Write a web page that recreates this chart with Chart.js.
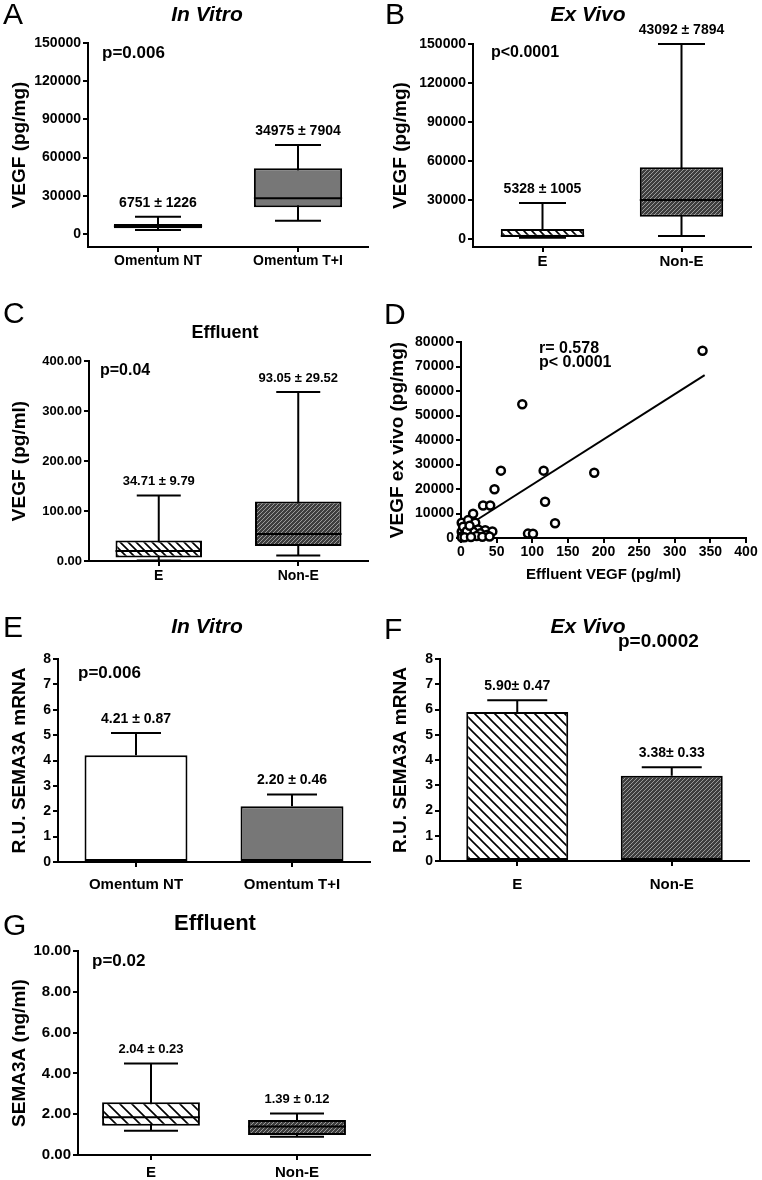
<!DOCTYPE html>
<html>
<head>
<meta charset="utf-8">
<script src="https://cdn.jsdelivr.net/npm/chart.js@4.4.0/dist/chart.umd.min.js"></script>
<style>
body { margin: 0; background: #fff; width: 762px; height: 1180px; position: relative; overflow: hidden; font-family: "Liberation Sans", Arial, sans-serif; }
canvas { position: absolute; }
.t { position: absolute; white-space: nowrap; color: #000; line-height: 1; transform: translateY(-50%); }
.letter { font-size: 30px; }
.title { font-weight: bold; transform: translate(-50%, -50%); }
.ital { font-style: italic; }
.pv { font-weight: bold; }
</style>
</head>
<body>
<canvas id="chartA" width="381" height="270" style="left:0;top:0"></canvas>
<canvas id="chartB" width="381" height="270" style="left:381px;top:0"></canvas>
<canvas id="chartC" width="381" height="320" style="left:0;top:270px"></canvas>
<canvas id="chartD" width="381" height="320" style="left:381px;top:270px"></canvas>
<canvas id="chartE" width="381" height="310" style="left:0;top:590px"></canvas>
<canvas id="chartF" width="381" height="310" style="left:381px;top:590px"></canvas>
<canvas id="chartG" width="381" height="280" style="left:0;top:900px"></canvas>

<div class="t letter" style="left:3px;top:14px">A</div>
<div class="t letter" style="left:385px;top:14px">B</div>
<div class="t letter" style="left:3px;top:313px">C</div>
<div class="t letter" style="left:384px;top:314px">D</div>
<div class="t letter" style="left:3px;top:627px">E</div>
<div class="t letter" style="left:384px;top:629px">F</div>
<div class="t letter" style="left:3px;top:925px">G</div>

<div class="t title ital" style="left:207px;top:13px;font-size:21px">In Vitro</div>
<div class="t title ital" style="left:588px;top:13px;font-size:21px">Ex Vivo</div>
<div class="t title" style="left:225px;top:332px;font-size:18px">Effluent</div>
<div class="t title ital" style="left:207px;top:625px;font-size:21px">In Vitro</div>
<div class="t title ital" style="left:588px;top:625px;font-size:21px">Ex Vivo</div>
<div class="t title" style="left:215px;top:923px;font-size:22px">Effluent</div>

<div class="t pv" style="left:102px;top:52px;font-size:17px">p=0.006</div>
<div class="t pv" style="left:491px;top:52px;font-size:16px">p&lt;0.0001</div>
<div class="t pv" style="left:100px;top:370px;font-size:16px">p=0.04</div>
<div class="t pv" style="left:539px;top:348px;font-size:16px">r= 0.578</div>
<div class="t pv" style="left:539px;top:362px;font-size:16px">p&lt; 0.0001</div>
<div class="t pv" style="left:78px;top:672px;font-size:17px">p=0.006</div>
<div class="t pv" style="left:618px;top:640px;font-size:19px">p=0.0002</div>
<div class="t pv" style="left:92px;top:960px;font-size:17px">p=0.02</div>

<script>
// ---------- A: VEGF in vitro (box) ----------
const catsA = ['Omentum NT', 'Omentum T+I'];
const boxLoA = [4500, 21000];
const boxHiA = [7800, 51600];
const medA = [6000, 28000];
const minA = [3100, 10500];
const maxA = [13600, 69900];
const noteA = ['6751 \u00b1 1226', '34975 \u00b1 7904'];
const yTicksA = [0, 30000, 60000, 90000, 120000, 150000];

// ---------- B: VEGF ex vivo (box) ----------
const catsB = ['E', 'Non-E'];
const boxLoB = [1700, 17200];
const boxHiB = [7700, 55100];
const medB = [2300, 30000];
const minB = [900, 2300];
const maxB = [27600, 150000];
const noteB = ['5328 \u00b1 1005', '43092 \u00b1 7894'];
const yTicksB = [0, 30000, 60000, 90000, 120000, 150000];

// ---------- C: VEGF effluent (box) ----------
const catsC = ['E', 'Non-E'];
const boxLoC = [7, 30];
const boxHiC = [41, 119];
const medC = [20, 54];
const minC = [1, 11];
const maxC = [131, 338];
const noteC = ['34.71 \u00b1 9.79', '93.05 \u00b1 29.52'];
const yTicksC = [0, 100, 200, 300, 400];

// ---------- D: correlation ----------
const xD = [339, 86, 56, 116, 187, 47, 118, 31, 41, 132, 17, 1, 10, 20, 10, 24, 34, 44, 94, 101,
            1, 2, 6, 13, 17, 27, 36, 3, 1, 8, 22, 30, 40, 5, 14, 12];
const yD = [76400, 54600, 27500, 27500, 26600, 19900, 14800, 13300, 13300, 6000, 9900, 6200, 7300, 6200, 4000, 3500, 3200, 2700, 1800, 1700,
            2600, 800, 1200, 1600, 2600, 1900, 1200, 4600, 300, 2800, 800, 500, 600, 300, 400, 5000];
const fitX = [12, 342];
const fitY = [5500, 66500];
const xTicksD = [0, 50, 100, 150, 200, 250, 300, 350, 400];
const yTicksD = [0, 10000, 20000, 30000, 40000, 50000, 60000, 70000, 80000];

// ---------- E: SEMA3A mRNA in vitro (bars) ----------
const catsE = ['Omentum NT', 'Omentum T+I'];
const valE = [4.21, 2.20];
const errE = [0.87, 0.46];
const noteE = ['4.21 \u00b1 0.87', '2.20 \u00b1 0.46'];
const yTicksE = [0, 1, 2, 3, 4, 5, 6, 7, 8];

// ---------- F: SEMA3A mRNA ex vivo (bars) ----------
const catsF = ['E', 'Non-E'];
const valF = [5.90, 3.38];
const errF = [0.47, 0.33];
const noteF = ['5.90\u00b1 0.47', '3.38\u00b1 0.33'];
const yTicksF = [0, 1, 2, 3, 4, 5, 6, 7, 8];

// ---------- G: SEMA3A effluent (box) ----------
const catsG = ['E', 'Non-E'];
const boxLoG = [1.43, 0.98];
const boxHiG = [2.58, 1.72];
const medG = [1.85, 1.40];
const minG = [1.19, 0.90];
const maxG = [4.48, 2.04];
const noteG = ['2.04 \u00b1 0.23', '1.39 \u00b1 0.12'];
const yTicksG = [0, 2, 4, 6, 8, 10];

const FONT = '"Liberation Sans", Arial, sans-serif';
Chart.defaults.font.family = FONT;
Chart.defaults.color = '#000';

// fill patterns
function hatch(step) {
    const c = document.createElement('canvas');
    c.width = step; c.height = step;
    const g = c.getContext('2d');
    g.fillStyle = '#fff';
    g.fillRect(0, 0, step, step);
    g.strokeStyle = '#000';
    g.lineWidth = 1.6;
    g.beginPath();
    g.moveTo(-1, -1); g.lineTo(step + 1, step + 1);
    g.moveTo(-1, step - 1); g.lineTo(1, step + 1);
    g.moveTo(step - 1, -1); g.lineTo(step + 1, 1);
    g.stroke();
    return g.createPattern(c, 'repeat');
}

function darkHatch() {
    const c = document.createElement('canvas');
    c.width = 4; c.height = 4;
    const g = c.getContext('2d');
    g.fillStyle = '#3e3e3e';
    g.fillRect(0, 0, 4, 4);
    g.strokeStyle = '#9a9a9a';
    g.lineWidth = 1;
    g.beginPath();
    g.moveTo(0, 4); g.lineTo(4, 0);
    g.moveTo(-1, 1); g.lineTo(1, -1);
    g.moveTo(3, 5); g.lineTo(5, 3);
    g.stroke();
    return g.createPattern(c, 'repeat');
}

// whiskers / error bars, medians and the mean +- SE notes
const whisk = {
    id: 'whisk',
    beforeDatasetsDraw(chart, args, o) {
        const y = chart.scales.y;
        const ctx = chart.ctx;
        ctx.save();
        ctx.strokeStyle = '#000';
        ctx.lineWidth = 2;
        chart.getDatasetMeta(0).data.forEach((b, i) => {
            const top = y.getPixelForValue(o.hi[i]);
            const bot = y.getPixelForValue(o.lo[i]);
            ctx.beginPath();
            ctx.moveTo(b.x, bot); ctx.lineTo(b.x, top);
            ctx.moveTo(b.x - o.cap / 2, top); ctx.lineTo(b.x + o.cap / 2, top);
            if (o.mid) {
                ctx.moveTo(b.x - o.cap / 2, bot); ctx.lineTo(b.x + o.cap / 2, bot);
            }
            ctx.stroke();
        });
        ctx.restore();
    },
    afterDatasetsDraw(chart, args, o) {
        const y = chart.scales.y;
        const ctx = chart.ctx;
        ctx.save();
        ctx.strokeStyle = '#000';
        ctx.lineWidth = 2;
        ctx.fillStyle = '#000';
        ctx.font = 'bold ' + o.size + 'px ' + FONT;
        ctx.textAlign = 'center';
        ctx.textBaseline = 'middle';
        chart.getDatasetMeta(0).data.forEach((b, i) => {
            if (o.mid) {
                const m = y.getPixelForValue(o.mid[i]);
                ctx.beginPath();
                ctx.moveTo(b.x - b.width / 2, m); ctx.lineTo(b.x + b.width / 2, m);
                ctx.stroke();
            }
            ctx.fillText(o.notes[i], b.x, y.getPixelForValue(o.hi[i]) - 14);
        });
        ctx.restore();
    }
};

function yAxis(o) {
    return {
        type: 'linear',
        min: o.min,
        max: o.max,
        afterFit: a => { a.width = o.width; },
        afterBuildTicks: a => { a.ticks = o.ticks.map(v => ({ value: v })); },
        border: { color: '#000', width: 2 },
        grid: { drawOnChartArea: false, color: '#000', lineWidth: 2, tickLength: 5 },
        ticks: { font: { size: o.size, weight: 'bold' }, padding: 2, callback: v => o.dec ? v.toFixed(o.dec) : String(v) },
        title: { display: true, text: o.title, font: { size: 19, weight: 'bold' }, padding: { top: o.tpad, bottom: 0 } }
    };
}

function xCat(height, size, pad) {
    return {
        type: 'category',
        offset: true,
        afterFit: a => { a.height = height; },
        border: { color: '#000', width: 2 },
        grid: { offset: false, drawOnChartArea: false, color: '#000', lineWidth: 2, tickLength: 5 },
        ticks: { font: { size: size, weight: 'bold' }, padding: pad, maxRotation: 0, autoSkip: false }
    };
}

function boxChart(id, c) {
    return new Chart(document.getElementById(id), {
        type: 'bar',
        data: {
            labels: c.cats,
            datasets: [{
                data: c.lo.map((v, i) => [v, c.hi[i]]),
                backgroundColor: c.fill,
                borderColor: '#000',
                borderWidth: 2,
                borderSkipped: false,
                barPercentage: c.barPct,
                categoryPercentage: 1
            }]
        },
        plugins: [whisk],
        options: {
            responsive: false,
            animation: false,
            events: [],
            layout: { padding: { top: c.top, right: c.right, left: 0, bottom: 0 } },
            plugins: {
                legend: { display: false },
                tooltip: { enabled: false },
                whisk: { lo: c.min, hi: c.max, mid: c.med, cap: c.cap, notes: c.notes, size: c.noteSize }
            },
            scales: { x: c.x, y: c.y }
        }
    });
}

function barChart(id, c) {
    return new Chart(document.getElementById(id), {
        type: 'bar',
        data: {
            labels: c.cats,
            datasets: [{
                data: c.vals,
                backgroundColor: c.fill,
                borderColor: '#000',
                borderWidth: 2,
                borderSkipped: false,
                barPercentage: 0.66,
                categoryPercentage: 1
            }]
        },
        plugins: [whisk],
        options: {
            responsive: false,
            animation: false,
            events: [],
            layout: { padding: { top: c.top, right: c.right, left: 0, bottom: 0 } },
            plugins: {
                legend: { display: false },
                tooltip: { enabled: false },
                whisk: { lo: c.vals, hi: c.vals.map((v, i) => v + c.errs[i]), mid: null, cap: c.cap, notes: c.notes, size: 14 }
            },
            scales: { x: c.x, y: c.y }
        }
    });
}

const gray = '#777';

boxChart('chartA', {
    cats: catsA, lo: boxLoA, hi: boxHiA, med: medA, min: minA, max: maxA, notes: noteA,
    fill: [gray, gray], barPct: 0.63, cap: 46, noteSize: 14, top: 43, right: 13,
    x: xCat(23, 14, 1),
    y: yAxis({ min: -10200, max: 150000, ticks: yTicksA, width: 88, size: 14, title: 'VEGF (pg/mg)', tpad: 8.6 })
});

boxChart('chartB', {
    cats: catsB, lo: boxLoB, hi: boxHiB, med: medB, min: minB, max: maxB, notes: noteB,
    fill: [hatch(8), darkHatch()], barPct: 0.6, cap: 47, noteSize: 14, top: 44, right: 11,
    x: xCat(23, 15, 1),
    y: yAxis({ min: -6150, max: 150000, ticks: yTicksB, width: 92, size: 14, title: 'VEGF (pg/mg)', tpad: 8.6 })
});

boxChart('chartC', {
    cats: catsC, lo: boxLoC, hi: boxHiC, med: medC, min: minC, max: maxC, notes: noteC,
    fill: [hatch(8), darkHatch()], barPct: 0.62, cap: 44, noteSize: 13, top: 91, right: 13,
    x: xCat(29, 14, 2),
    y: yAxis({ min: 0, max: 400, ticks: yTicksC, width: 89, size: 13, dec: 2, title: 'VEGF (pg/ml)', tpad: 8.6 })
});

// D: scatter with regression line
new Chart(document.getElementById('chartD'), {
    data: {
        datasets: [{
            type: 'scatter',
            data: xD.map((x, i) => ({ x: x, y: yD[i] })),
            pointRadius: 4,
            pointBorderWidth: 2.5,
            borderColor: '#000',
            backgroundColor: '#fff',
            clip: false
        }, {
            type: 'line',
            data: fitX.map((x, i) => ({ x: x, y: fitY[i] })),
            borderColor: '#000',
            borderWidth: 2,
            pointRadius: 0
        }]
    },
    options: {
        responsive: false,
        animation: false,
        events: [],
        layout: { padding: { top: 72, right: 16, left: 0, bottom: 0 } },
        plugins: { legend: { display: false }, tooltip: { enabled: false } },
        scales: {
            x: {
                type: 'linear',
                min: 0,
                max: 400,
                afterFit: a => { a.height = 52; },
                afterBuildTicks: a => { a.ticks = xTicksD.map(v => ({ value: v })); },
                border: { color: '#000', width: 2 },
                grid: { drawOnChartArea: false, color: '#000', lineWidth: 2, tickLength: 5 },
                ticks: { font: { size: 14, weight: 'bold' }, padding: 1, maxRotation: 0 },
                title: { display: true, text: 'Effluent VEGF (pg/ml)', font: { size: 15, weight: 'bold' }, padding: { top: 0, bottom: 6 } }
            },
            y: yAxis({ min: 0, max: 80000, ticks: yTicksD, width: 80, size: 14, title: 'VEGF ex vivo (pg/mg)', tpad: 5.6 })
        }
    }
});

barChart('chartE', {
    cats: catsE, vals: valE, errs: errE, notes: noteE,
    fill: ['#fff', gray], cap: 50, top: 69, right: 11,
    x: xCat(38, 15, 9),
    y: yAxis({ min: 0, max: 8, ticks: yTicksE, width: 58, size: 14, title: 'R.U. SEMA3A mRNA', tpad: 8.6 })
});

barChart('chartF', {
    cats: catsF, vals: valF, errs: errF, notes: noteF,
    fill: [hatch(10), darkHatch()], cap: 60, top: 69, right: 13,
    x: xCat(39, 15, 10),
    y: yAxis({ min: 0, max: 8, ticks: yTicksF, width: 59, size: 14, title: 'R.U. SEMA3A mRNA', tpad: 8.6 })
});

boxChart('chartG', {
    cats: catsG, lo: boxLoG, hi: boxHiG, med: medG, min: minG, max: maxG, notes: noteG,
    fill: [hatch(12), darkHatch()], barPct: 0.67, cap: 54, noteSize: 13, top: 51, right: 11,
    x: xCat(25, 15, 4),
    y: yAxis({ min: 0, max: 10, ticks: yTicksG, width: 78, size: 15, dec: 2, title: 'SEMA3A (ng/ml)', tpad: 8.6 })
});
</script>
</body>
</html>
